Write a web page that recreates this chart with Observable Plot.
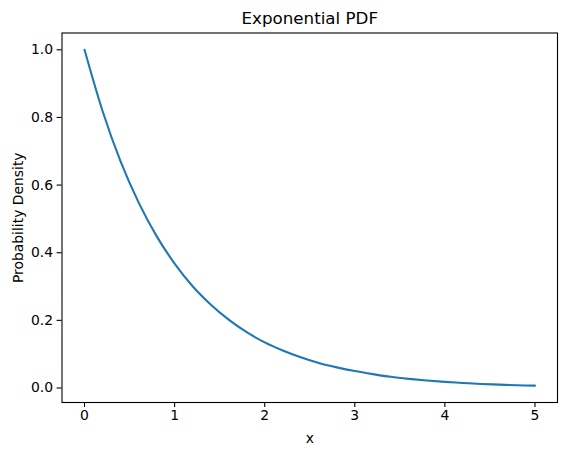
<!DOCTYPE html>
<html><head><meta charset="utf-8">
<script src="https://cdn.jsdelivr.net/npm/d3@7"></script>
<script src="https://cdn.jsdelivr.net/npm/@observablehq/plot@0.6"></script>
<style>body{margin:0;background:#fff}</style>
</head><body><div id="chart"></div>
<script>
const xs = [0,0.2,0.4,0.6,0.8,1.0,1.2,1.4,1.6,1.8,2.0,2.2,2.4,2.6,2.8,3.0,3.2,3.4,3.6,3.8,4.0,4.2,4.4,4.6,4.8,5.0];
const density = [1.000,0.819,0.670,0.549,0.449,0.368,0.301,0.247,0.202,0.165,0.135,0.111,0.091,0.074,0.061,0.050,0.041,0.033,0.027,0.022,0.018,0.015,0.012,0.010,0.008,0.007];
const xTicks = [0,1,2,3,4,5];
const yTicks = [0.0,0.2,0.4,0.6,0.8,1.0];
const title = "Exponential PDF";
const xLabel = "x";
const yLabel = "Probability Density";

const data = xs.map((x,i)=>({x, y: density[i]}));

const chart = Plot.plot({
  width: 567, height: 455,
  marginLeft: 61.5, marginRight: 10, marginTop: 32.5, marginBottom: 53,
  style: {fontFamily: "DejaVu Sans", fontSize: "13.9px", color: "#000", background: "#fff"},
  x: {domain: [-0.25, 5.25]},
  y: {domain: [-0.0429, 1.0497]},
  marks: [
    Plot.frame({stroke: "#000", strokeWidth: 1.1}),
    Plot.axisX({ticks: xTicks, tickFormat: d => String(d), tickSize: 4.9, tickPadding: 3, strokeWidth: 1.1,
      label: xLabel, labelAnchor: "center", labelArrow: "none", labelOffset: 40}),
    Plot.axisY({ticks: yTicks, tickFormat: d3.format(".1f"), tickSize: 4.9, tickPadding: 4, strokeWidth: 1.1,
      label: yLabel, labelAnchor: "center", labelArrow: "none", labelOffset: 49}),
    Plot.line(data, {x: "x", y: "y", stroke: "#1f77b4", strokeWidth: 2.08, curve: "monotone-x"}),
    Plot.text([title], {frameAnchor: "top", dy: -9, fontSize: 16.7, text: d => d, lineAnchor: "bottom"})
  ]
});
document.getElementById("chart").append(chart);
</script></body></html>
